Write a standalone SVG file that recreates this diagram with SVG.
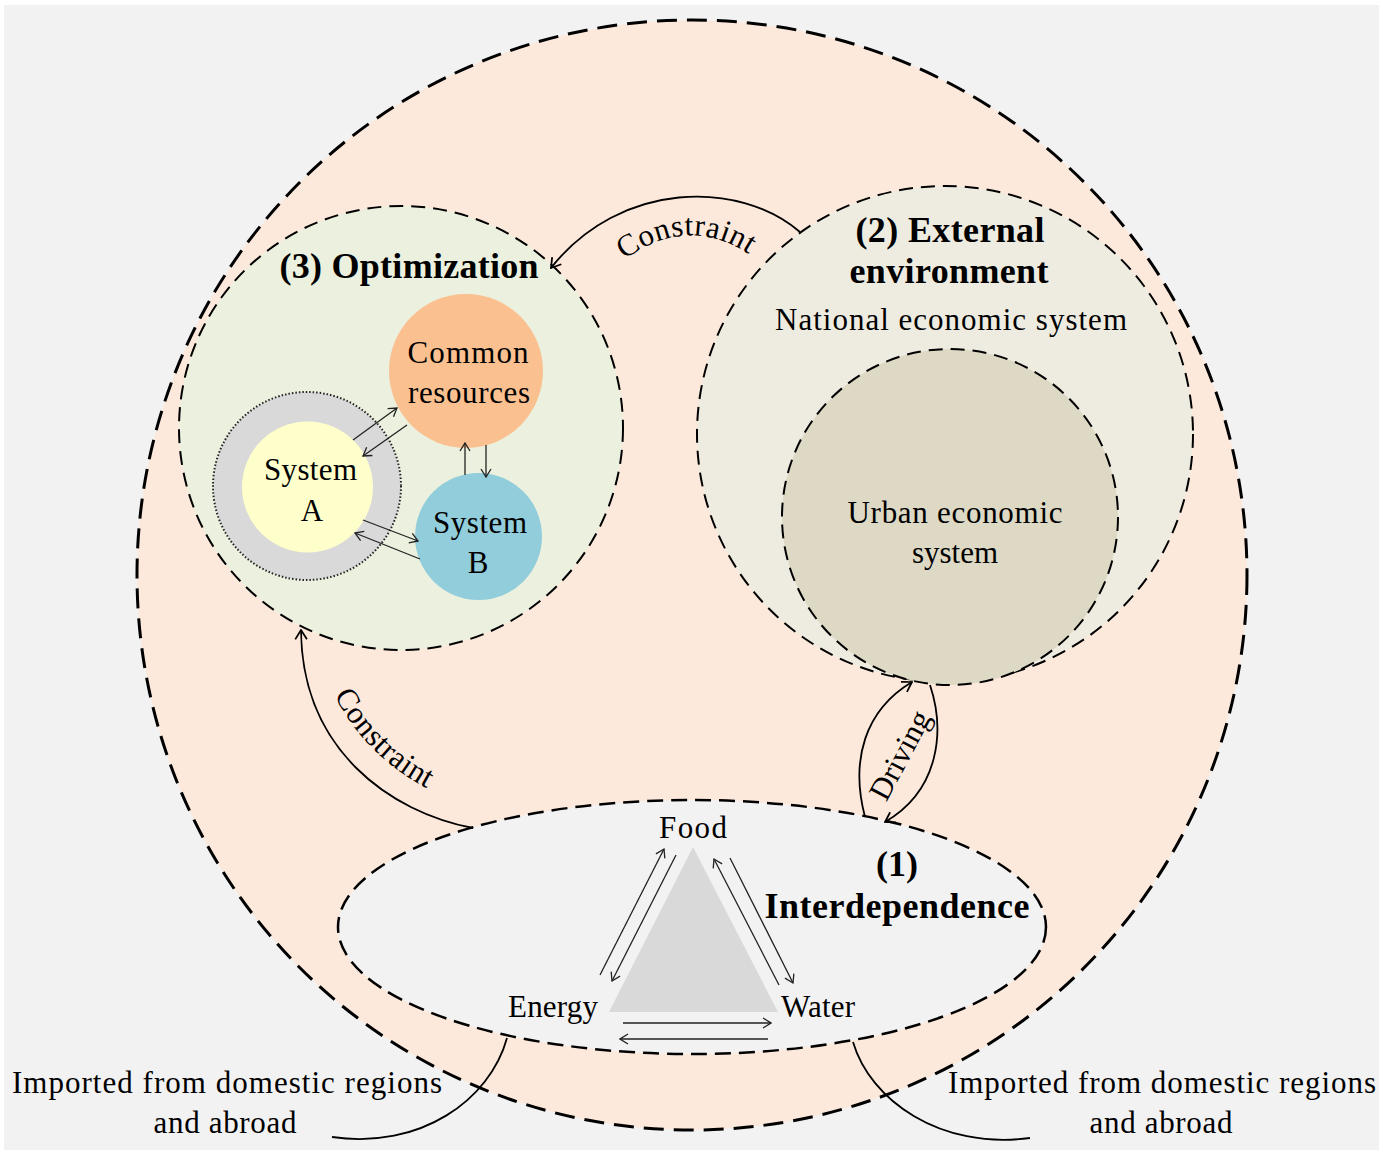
<svg xmlns="http://www.w3.org/2000/svg" width="1383" height="1154" viewBox="0 0 1383 1154">
<style>
text{font-family:"Liberation Serif","Times New Roman",serif;fill:#000}
.r{font-size:31px}
.b{font-size:36px;font-weight:bold}
.m{text-anchor:middle}
.big{stroke:#000;stroke-width:3;stroke-dasharray:20 10}
.dsh{stroke:#000;stroke-width:2;stroke-dasharray:14 8}
.conn{fill:none;stroke:#000;stroke-width:1.8}
.sm{fill:none;stroke:#222;stroke-width:1.3;marker-end:url(#as)}
</style>
<defs>
<marker id="ab" viewBox="0 0 10 12" refX="9" refY="6" markerWidth="12" markerHeight="14" markerUnits="userSpaceOnUse" orient="auto">
<path d="M1,1 L9,6 L1,11" fill="none" stroke="#000" stroke-width="1.5"/>
</marker>
<marker id="as" viewBox="0 0 10 12" refX="9" refY="6" markerWidth="10" markerHeight="12" markerUnits="userSpaceOnUse" orient="auto">
<path d="M1,1 L9,6 L1,11" fill="none" stroke="#222" stroke-width="1.3"/>
</marker>
<path id="tp1" d="M 614 268 Q 688 206 760 262"/>
<path id="tp2" d="M 333 692 Q 363 755 430 790"/>
</defs>
<rect x="0" y="0" width="1383" height="1154" fill="#ffffff"/>
<rect x="4" y="5" width="1375" height="1145" fill="#f2f2f2"/>

<g id="outer"><circle cx="692" cy="575" r="555" fill="#fde9db" class="big"/></g>

<g id="optimization">
<circle cx="401" cy="428" r="222" fill="#ebf1de" class="dsh"/>
<text class="b" x="409" y="278" text-anchor="middle" textLength="259" lengthAdjust="spacing">(3) Optimization</text>
</g>

<g id="external">
<circle cx="945" cy="434" r="248" fill="#eeece1" class="dsh"/>
<text class="b m" x="950" y="242" textLength="189" lengthAdjust="spacing">(2) External</text>
<text class="b m" x="949" y="283" textLength="199" lengthAdjust="spacing">environment</text>
<text class="r m" x="951" y="330" textLength="352" lengthAdjust="spacing">National economic system</text>
</g>

<g id="urban">
<circle cx="950" cy="517" r="168" fill="#ddd9c4" class="dsh"/>
<text class="r m" x="955" y="523" textLength="215" lengthAdjust="spacing">Urban economic</text>
<text class="r m" x="955" y="563">system</text>
</g>

<g id="common">
<circle cx="466" cy="371" r="77" fill="#fac090"/>
<text class="r m" x="468" y="363" textLength="121" lengthAdjust="spacing">Common</text>
<text class="r m" x="469" y="403" textLength="122" lengthAdjust="spacing">resources</text>
</g>

<g id="systemA">
<circle cx="307" cy="486" r="94" fill="#d9d9d9" stroke="#222" stroke-width="2" stroke-dasharray="1.5 2"/>
<circle cx="307.5" cy="487" r="65.5" fill="#ffffcc"/>
<text class="r m" x="310.5" y="480" textLength="93" lengthAdjust="spacing">System</text>
<text class="r m" x="312" y="521">A</text>
</g>

<g id="systemB">
<circle cx="478.5" cy="536.5" r="63.5" fill="#92cddc"/>
<text class="r m" x="480" y="533" textLength="94" lengthAdjust="spacing">System</text>
<text class="r m" x="478" y="573">B</text>
</g>

<g id="interdependence">
<ellipse cx="692" cy="927" rx="354" ry="127" fill="#f2f2f2" stroke="#000" stroke-width="2.5" stroke-dasharray="16 8"/>
<polygon points="693,847 609,1012 778,1012" fill="#d9d9d9"/>
<text class="r m" x="693" y="838" textLength="68" lengthAdjust="spacing">Food</text>
<text class="r m" x="553" y="1017" textLength="90" lengthAdjust="spacing">Energy</text>
<text class="r m" x="818" y="1017" textLength="74" lengthAdjust="spacing">Water</text>
<text class="b m" x="897" y="876">(1)</text>
<text class="b m" x="897" y="918" textLength="265" lengthAdjust="spacing">Interdependence</text>
</g>

<g id="imports">
<text class="r" x="12" y="1093" textLength="430" lengthAdjust="spacing">Imported from domestic regions</text>
<text class="r m" x="225" y="1133" textLength="143" lengthAdjust="spacing">and abroad</text>
<text class="r" x="948" y="1093" textLength="428" lengthAdjust="spacing">Imported from domestic regions</text>
<text class="r m" x="1161" y="1133" textLength="143" lengthAdjust="spacing">and abroad</text>
</g>

<g id="connectors">
<path class="conn" d="M 800 232 C 740 180 620 180 551 268" marker-end="url(#ab)"/>
<text class="r" letter-spacing="0.5"><textPath href="#tp1" startOffset="50%" text-anchor="middle">Constraint</textPath></text>
<path class="conn" d="M 473 828 C 390 812 302 750 301 630" marker-end="url(#ab)"/>
<text class="r" letter-spacing="0.5"><textPath href="#tp2" startOffset="50%" text-anchor="middle">Constraint</textPath></text>
<path class="conn" d="M 865 817 C 850 760 865 710 912 682" marker-end="url(#ab)"/>
<path class="conn" d="M 930 685 C 945 730 940 790 885 822" marker-end="url(#ab)"/>
<text class="r m" x="909" y="760" transform="rotate(-62 909 760)">Driving</text>
<path class="conn" d="M 507 1038 C 490 1100 420 1150 332 1137"/>
<path class="conn" d="M 853 1042 C 870 1100 940 1150 1030 1138"/>
<line class="sm" x1="353" y1="440" x2="397" y2="408"/>
<line class="sm" x1="407" y1="425" x2="363" y2="456"/>
<line class="sm" x1="465" y1="475" x2="465" y2="443"/>
<line class="sm" x1="486" y1="445" x2="486" y2="477"/>
<line class="sm" x1="363" y1="520" x2="418" y2="541"/>
<line class="sm" x1="420" y1="559" x2="355" y2="533"/>
<line class="sm" x1="600" y1="975" x2="664" y2="849"/>
<line class="sm" x1="676" y1="855" x2="612" y2="981"/>
<line class="sm" x1="779" y1="985" x2="714" y2="859"/>
<line class="sm" x1="730" y1="858" x2="793" y2="983"/>
<line class="sm" x1="623" y1="1023" x2="771" y2="1023"/>
<line class="sm" x1="768" y1="1039" x2="620" y2="1039"/>
</g>
</svg>
